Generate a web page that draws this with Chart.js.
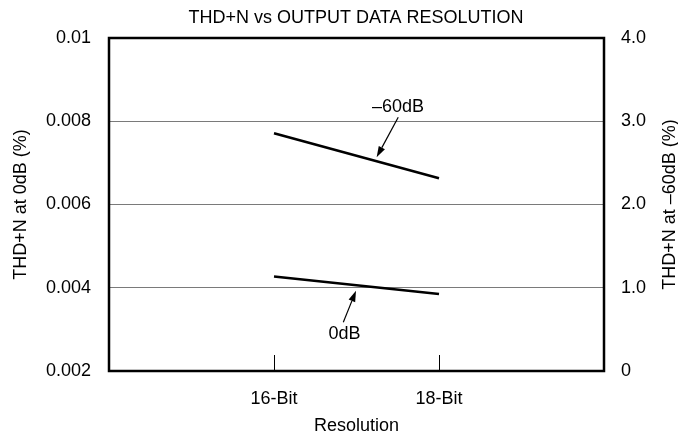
<!DOCTYPE html>
<html>
<head>
<meta charset="utf-8">
<title>THD+N vs Output Data Resolution</title>
<script src="https://cdn.jsdelivr.net/npm/chart.js@4.4.1/dist/chart.umd.min.js"></script>
<style>
    html, body { margin: 0; padding: 0; background: #ffffff; }
    #wrap { width: 678px; height: 437px; position: relative; }
</style>
</head>
<body>
<div id="wrap"><canvas id="thdChart"></canvas></div>
<script>
/* ========================================
   Chart data
   ======================================== */

const resolutionPositions = [1, 2];
const resolutionLabels = ['16-Bit', '18-Bit'];

// THD+N at 0dB (%) - left axis
const thd0dB = [0.00427, 0.00385];
// THD+N at -60dB (%) - right axis
const thd60dB = [2.855, 2.315];

const leftTicks = [0.002, 0.004, 0.006, 0.008, 0.01];
const leftTickLabels = ['0.002', '0.004', '0.006', '0.008', '0.01'];
const rightTicks = [0, 1, 2, 3, 4];
const rightTickLabels = ['0', '1.0', '2.0', '3.0', '4.0'];

// callout text with arrow, in data units (x, right axis)
const callouts = [
    { text: '\u201360dB', label: [1.752, 3.165], tail: [1.753, 3.047], tip: [1.622, 2.567] },
    { text: '0dB',        label: [1.427, 0.444], tail: [1.420, 0.585], tip: [1.497, 0.965] }
];

const FONT = 'Liberation Sans, Arial, Helvetica, sans-serif';

/* ========================================
   Extra drawing: frame, inner ticks, titles, callouts
   ======================================== */

const decorPlugin = {
    id: 'decor',
    afterDatasetsDraw(chart) {
        const { ctx, chartArea: a, scales } = chart;
        const xs = scales.x, ys = scales.y1;
        ctx.save();

        // frame
        ctx.strokeStyle = '#000';
        ctx.lineWidth = 2.5;
        ctx.strokeRect(a.left, a.top, a.right - a.left, a.bottom - a.top);

        // short ticks pointing up from the bottom
        ctx.lineWidth = 1;
        resolutionPositions.forEach(v => {
            const px = Math.round(xs.getPixelForValue(v)) + 0.5;
            ctx.beginPath();
            ctx.moveTo(px, a.bottom);
            ctx.lineTo(px, a.bottom - 16);
            ctx.stroke();
        });

        // callouts
        ctx.fillStyle = '#000';
        ctx.font = '18px ' + FONT;
        ctx.textAlign = 'center';
        ctx.textBaseline = 'middle';
        callouts.forEach(c => {
            ctx.fillText(c.text, xs.getPixelForValue(c.label[0]), ys.getPixelForValue(c.label[1]));
            const x0 = xs.getPixelForValue(c.tail[0]), y0 = ys.getPixelForValue(c.tail[1]);
            const x1 = xs.getPixelForValue(c.tip[0]),  y1 = ys.getPixelForValue(c.tip[1]);
            const ang = Math.atan2(y1 - y0, x1 - x0);
            const head = 11, half = 3.5;
            const bx = x1 - head * Math.cos(ang), by = y1 - head * Math.sin(ang);
            ctx.lineWidth = 1.2;
            ctx.beginPath();
            ctx.moveTo(x0, y0);
            ctx.lineTo(bx, by);
            ctx.stroke();
            ctx.beginPath();
            ctx.moveTo(x1, y1);
            ctx.lineTo(bx + half * Math.sin(ang), by - half * Math.cos(ang));
            ctx.lineTo(bx - half * Math.sin(ang), by + half * Math.cos(ang));
            ctx.closePath();
            ctx.fill();
        });

        // main title
        ctx.fillText('THD+N vs OUTPUT DATA RESOLUTION', 356, 18);

        // right axis title, reading bottom to top
        ctx.translate(670, (a.top + a.bottom) / 2);
        ctx.rotate(-Math.PI / 2);
        ctx.fillText('THD+N at \u201360dB (%)', 0, 0);

        ctx.restore();
    }
};

/* ========================================
   Chart
   ======================================== */

new Chart(document.getElementById('thdChart'), {
    type: 'line',
    data: {
        datasets: [
            {
                label: '0dB',
                data: resolutionPositions.map((x, i) => ({ x: x, y: thd0dB[i] })),
                yAxisID: 'y',
                borderColor: '#000',
                borderWidth: 2.5,
                pointRadius: 0,
                tension: 0
            },
            {
                label: '-60dB',
                data: resolutionPositions.map((x, i) => ({ x: x, y: thd60dB[i] })),
                yAxisID: 'y1',
                borderColor: '#000',
                borderWidth: 2.5,
                pointRadius: 0,
                tension: 0
            }
        ]
    },
    options: {
        responsive: true,
        maintainAspectRatio: false,
        animation: false,
        devicePixelRatio: 1,
        layout: { padding: { top: 38, left: 0, right: 0, bottom: 0 } },
        plugins: {
            legend: { display: false },
            tooltip: { enabled: false },
            title: { display: false }
        },
        scales: {
            x: {
                type: 'linear',
                min: 0,
                max: 3,
                afterBuildTicks: s => { s.ticks = resolutionPositions.map(v => ({ value: v })); },
                afterFit: s => { s.height = 66; },
                grid: { display: false, drawTicks: false },
                border: { display: false },
                ticks: {
                    padding: 17,
                    color: '#000',
                    font: { family: FONT, size: 18 },
                    callback: (v) => resolutionLabels[resolutionPositions.indexOf(v)]
                },
                title: {
                    display: true,
                    text: 'Resolution',
                    color: '#000',
                    font: { family: FONT, size: 18 },
                    padding: { top: 0, bottom: 0 }
                }
            },
            y: {
                position: 'left',
                min: 0.002,
                max: 0.01,
                afterBuildTicks: s => { s.ticks = leftTicks.map(v => ({ value: v })); },
                afterFit: s => { s.width = 109; },
                grid: {
                    drawTicks: false,
                    color: ctx => (ctx.index === 0 || ctx.index === leftTicks.length - 1) ? 'rgba(0,0,0,0)' : '#7a7a7a',
                    lineWidth: 1
                },
                border: { display: false },
                ticks: {
                    padding: 18,
                    color: '#000',
                    font: { family: FONT, size: 18 },
                    callback: (v, i) => leftTickLabels[i]
                },
                title: {
                    display: true,
                    text: 'THD+N at 0dB (%)',
                    color: '#000',
                    font: { family: FONT, size: 18 },
                    padding: { top: 10, bottom: 0 }
                }
            },
            y1: {
                position: 'right',
                min: 0,
                max: 4,
                afterBuildTicks: s => { s.ticks = rightTicks.map(v => ({ value: v })); },
                afterFit: s => { s.width = 74; },
                grid: { display: false, drawTicks: false },
                border: { display: false },
                ticks: {
                    padding: 17,
                    color: '#000',
                    font: { family: FONT, size: 18 },
                    callback: (v, i) => rightTickLabels[i]
                }
            }
        }
    },
    plugins: [decorPlugin]
});
</script>
</body>
</html>
